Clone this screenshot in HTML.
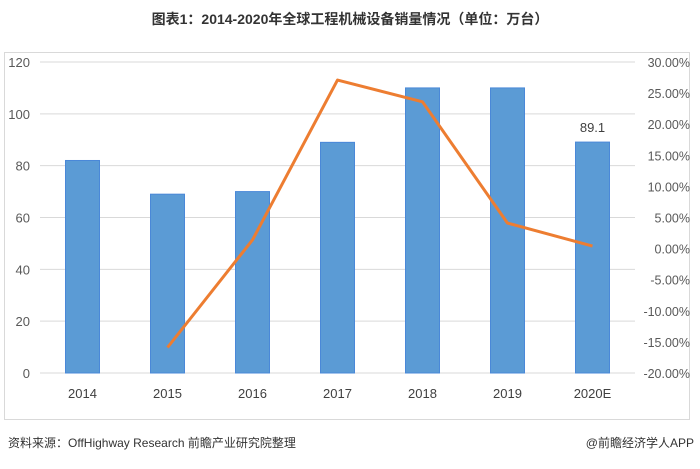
<!DOCTYPE html>
<html><head><meta charset="utf-8"><style>
body{margin:0;width:700px;height:464px;background:#fff;overflow:hidden;font-family:"Liberation Sans","Noto Sans CJK SC",sans-serif;}
</style></head><body>
<svg width="700" height="464" xmlns="http://www.w3.org/2000/svg">
<text x="350" y="24" text-anchor="middle" font-size="14" font-weight="bold" fill="#333">图表1：2014-2020年全球工程机械设备销量情况（单位：万台）</text>
<rect x="4.5" y="52.5" width="685" height="367" fill="none" stroke="#d9d9d9"/>
<g id="grid"></g><g id="bars"></g><g id="line"></g><g id="axes"></g>
<text x="8" y="447" font-size="12" fill="#333">资料来源：OffHighway Research 前瞻产业研究院整理</text>
<text x="694" y="447" text-anchor="end" font-size="12" fill="#333">@前瞻经济学人APP</text>
</svg>
<script>
const categories=["2014","2015","2016","2017","2018","2019","2020E"];
const sales=[82,69,70,89,110,110,89.1];
const growth=[null,-15.9,1.4,27.1,23.6,4.1,0.4];
const leftTicks=[0,20,40,60,80,100,120];
const rightTicks=[-20,-15,-10,-5,0,5,10,15,20,25,30];
const NS="http://www.w3.org/2000/svg";
const X0=40,X1=635,Y0=373,Y1=62;
const bw=(X1-X0)/categories.length;
const xc=i=>X0+bw*(i+0.5);
const yL=v=>Y0-(v-0)/(120-0)*(Y0-Y1);
const yR=v=>Y0-(v+20)/50*(Y0-Y1);
function mk(t,a,p,txt){const e=document.createElementNS(NS,t);for(const k in a)e.setAttribute(k,a[k]);if(txt!=null)e.textContent=txt;p.appendChild(e);return e;}
const g=document.getElementById('grid'),b=document.getElementById('bars'),l=document.getElementById('line'),ax=document.getElementById('axes');
leftTicks.forEach(v=>{
 const ln=mk('line',{x1:X0,x2:X1,y1:yL(v),y2:yL(v),stroke:'#d9d9d9'},g);
 
 
 const t=mk('text',{x:30,y:yL(v)+5,'text-anchor':'end','font-size':13,fill:'#595959'},ax,String(v));
 
 
});
rightTicks.forEach(v=>{
 const t=mk('text',{x:690,y:yR(v)+5,'text-anchor':'end','font-size':12.5,fill:'#595959'},ax,v.toFixed(2)+'%');
 
 
});
categories.forEach((c,i)=>{
 const r=mk('rect',{x:xc(i)-17,y:yL(sales[i]),width:34,height:Y0-yL(sales[i]),fill:'#5b9bd5',stroke:'#4a88d8','stroke-width':1},b);
 
 
 const t=mk('text',{x:xc(i),y:398,'text-anchor':'middle','font-size':13,fill:'#404040'},ax,c);
 
 
});
const last=sales.length-1;
const lbl=mk('text',{x:xc(last),y:yL(sales[last])-10,'text-anchor':'middle','font-size':13,fill:'#404040'},ax,String(sales[last]));


const pts=growth.map((v,i)=>v==null?null:xc(i)+','+yR(v)).filter(p=>p);
const pl=mk('polyline',{points:pts.join(' '),fill:'none',stroke:'#ed7d31','stroke-width':3,'stroke-linejoin':'round'},l);


</script>
</body></html>
